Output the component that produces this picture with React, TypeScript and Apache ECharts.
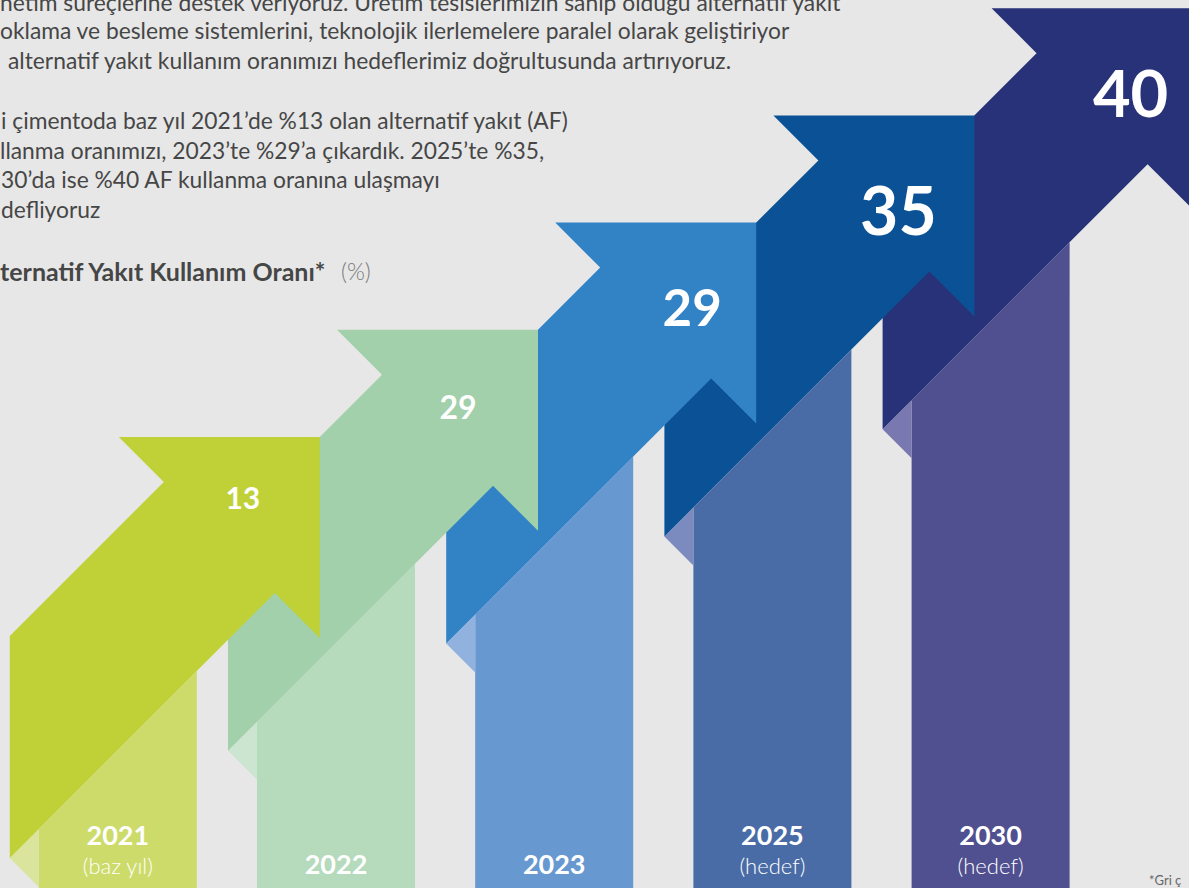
import React, { useEffect, useRef } from 'react';
import * as echarts from 'echarts';

// ---- data ----
const years = ['2021', '2022', '2023', '2025', '2030'];
const yearNotes = ['(baz yıl)', '', '', '(hedef)', '(hedef)'];
const afRates = [13, 29, 29, 35, 40];

const introLines = [
  'netim süreçlerine destek veriyoruz. Üretim tesislerimizin sahip olduğu alternatif yakıt',
  'oklama ve besleme sistemlerini, teknolojik ilerlemelere paralel olarak geliştiriyor',
  'alternatif yakıt kullanım oranımızı hedeflerimiz doğrultusunda artırıyoruz.',
  'i çimentoda baz yıl 2021’de %13 olan alternatif yakıt (AF)',
  'llanma oranımızı, 2023’te %29’a çıkardık. 2025’te %35,',
  '30’da ise %40 AF kullanma oranına ulaşmayı',
  'defliyoruz',
];
const chartTitle = 'ternatif Yakıt Kullanım Oranı*';
const chartUnit = '(%)';
const footnote = '*Gri ç';

// ---- styles ----
const FONT = "Lato, 'Noto Sans', sans-serif";
const introX = [0, 0, 8, 1, 0, 1, 1];
const introY = [4, 32, 62, 122, 152, 181, 211];
const bandColors = ['#BFD137', '#A2D0AA', '#3183C6', '#0A5195', '#283278'];
const columnColors = ['#CCDB6A', '#B6DABC', '#6799D0', '#4A6CA6', '#505090'];
const foldColors = ['#DBE49C', '#CCE5D0', '#91B1DF', '#7B8BBF', '#7A78B0'];
const valueFontSizes = [30, 32, 51, 66, 65];
const valueDx = [-77, -80, -64, -76, -62];
const valueDy = [60, 77, 84, 94, 84];

const renderItem = (params: any, api: any) => {
  const i = params.dataIndex;
  const value = api.value(1);
  const [cx, bottom] = api.coord([api.value(0), 0]);
  const step = api.size([1, 0])[0];
  const half = 79, fold = 29, reach = 123, L = 201, g = 45;
  const cl = cx - half, cr = cx + half, xa = cl - fold;
  const X = cr + reach;
  const Y = bottom - 451 - i * (step - (L - 2 * g));
  const c1 = X + Y - L + 2 * g;
  const c2 = X + Y + L - 2 * g;
  const base = (10 - i) * 10;
  const arrow = [
    [xa, c1 - xa], [X - L + g, Y + g], [X - L, Y], [X, Y],
    [X, Y + L], [X - g, Y + L - g], [xa, c2 - xa],
  ];
  const column = [[cl, c2 - cl], [cr, c2 - cr], [cr, bottom + 40], [cl, bottom + 40]];
  const foldTri = [[xa, c2 - xa], [cl, c2 - cl], [cl, c2 - xa + (cl - xa)]];
  const note = yearNotes[i];
  const children: any[] = [
    { type: 'polygon', shape: { points: column }, style: { fill: columnColors[i] }, z2: base },
    { type: 'polygon', shape: { points: foldTri }, style: { fill: foldColors[i] }, z2: base + 1 },
    { type: 'polygon', shape: { points: arrow }, style: { fill: bandColors[i] }, z2: base + 2 },
    {
      type: 'text', z2: base + 3,
      style: {
        text: String(value), x: X + valueDx[i], y: Y + valueDy[i],
        fill: '#ffffff', fontSize: valueFontSizes[i], fontWeight: 'bold', fontFamily: FONT,
        align: 'center', verticalAlign: 'middle',
      },
    },
    {
      type: 'text', z2: base + 3,
      style: {
        text: years[i], x: cx, y: note ? bottom - 54 : bottom - 25,
        fill: '#ffffff', fontSize: 27, fontWeight: 'bold', fontFamily: FONT,
        align: 'center', verticalAlign: 'middle',
      },
    },
  ];
  if (note) {
    children.push({
      type: 'text', z2: base + 3,
      style: {
        text: note, x: cx, y: bottom - 23,
        fill: '#ffffff', fontSize: 22, fontWeight: 300, fontFamily: FONT,
        align: 'center', verticalAlign: 'middle',
      },
    });
  }
  return { type: 'group', children };
};

export default function App() {
  const ref = useRef<HTMLDivElement>(null);
  useEffect(() => {
    if (!ref.current) return;
    const chart = echarts.init(ref.current, undefined, { renderer: 'svg' });
    const graphic: any[] = introLines.map((t, k) => ({
      type: 'text', left: introX[k], top: introY[k] - 14,
      style: { text: t, fill: '#464646', fontSize: 22.8, fontFamily: FONT },
    }));
    graphic.push({
      type: 'text', left: 0, top: 273 - 15,
      style: { text: chartTitle, fill: '#464646', fontSize: 25, fontWeight: 'bold', fontFamily: FONT },
    });
    graphic.push({
      type: 'text', left: 341, top: 273 - 14,
      style: { text: chartUnit, fill: '#7a7a7a', fontSize: 23, fontWeight: 300, fontFamily: FONT },
    });
    graphic.push({
      type: 'text', left: 1149, top: 873,
      style: { text: footnote, fill: '#666666', fontSize: 13, fontFamily: FONT },
    });
    chart.setOption({
      animation: false,
      backgroundColor: '#E7E7E7',
      grid: { left: 8.7, right: 89.3, top: 0, bottom: 0 },
      xAxis: { type: 'category', data: years, show: false },
      yAxis: { type: 'value', min: 0, max: 100, show: false },
      series: [{
        type: 'custom',
        data: afRates.map((v, k) => [k, v]),
        renderItem,
        clip: false,
      }],
      graphic,
    });
    return () => chart.dispose();
  }, []);
  return <div ref={ref} style={{ position: 'fixed', left: 0, top: 0, width: 1189, height: 888 }} />;
}
